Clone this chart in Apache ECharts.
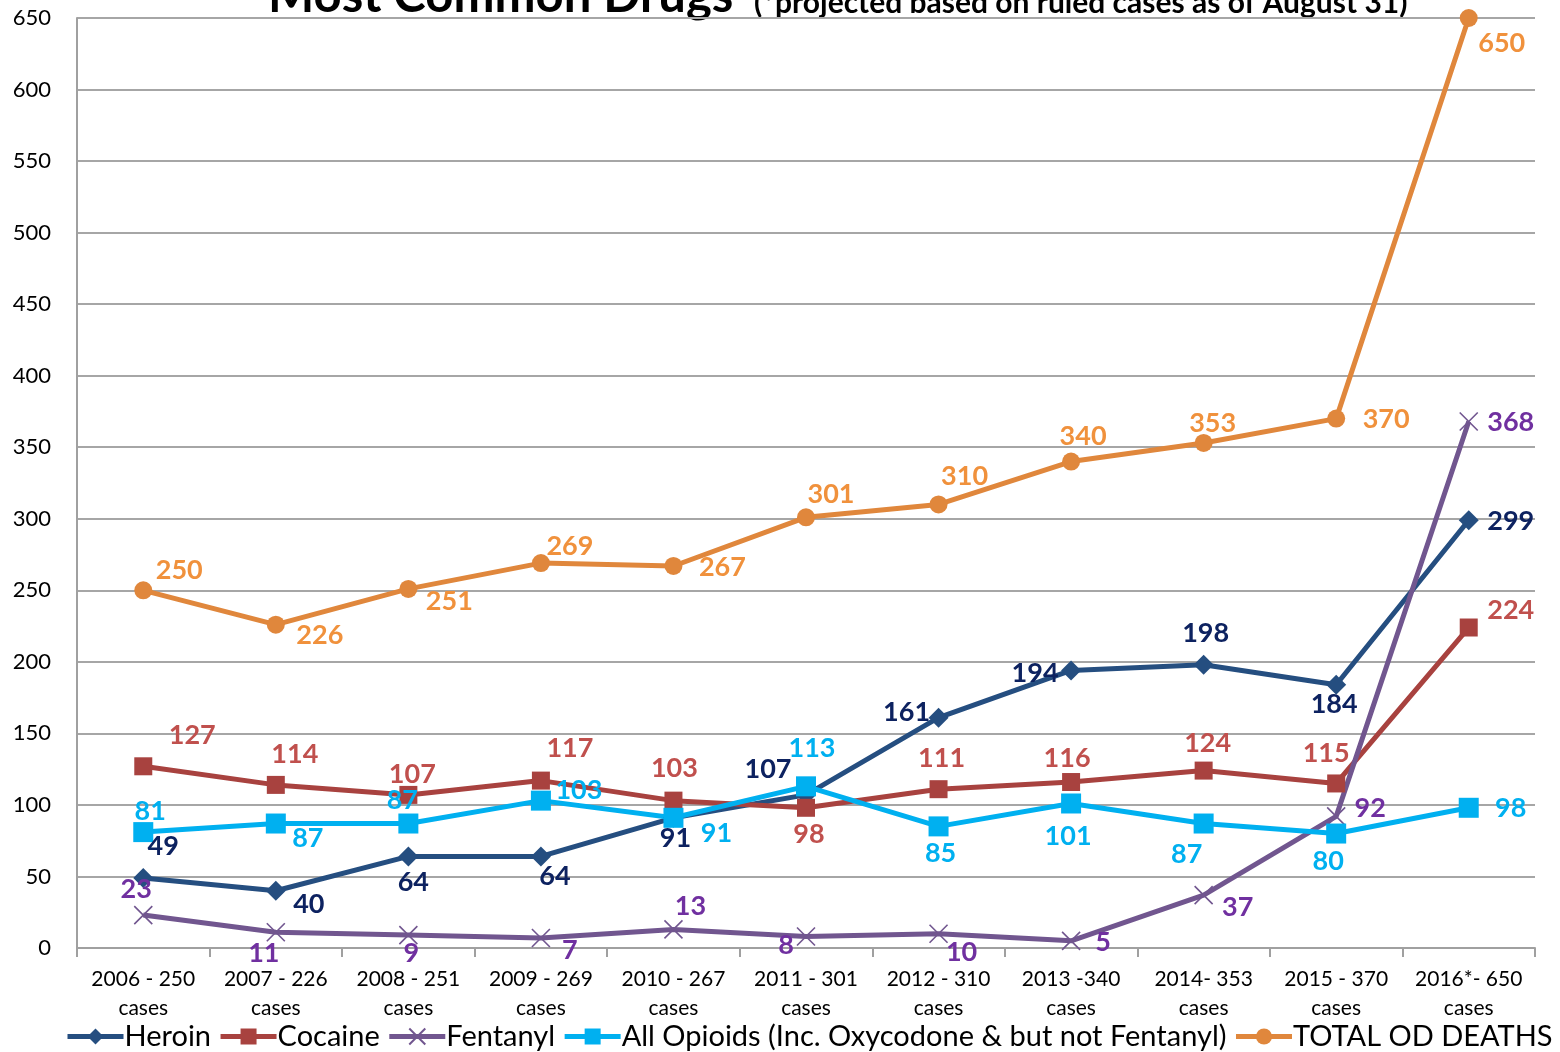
<!DOCTYPE html>
<html><head><meta charset="utf-8">
<script src="https://cdn.jsdelivr.net/npm/echarts@6/dist/echarts.min.js"></script>
<style>html,body{margin:0;padding:0;background:#fff}#c{width:1560px;height:1052px}</style>
</head><body><div id="c"></div>
<script>
const categories = ['2006 - 250\ncases','2007 - 226\ncases','2008 - 251\ncases','2009 - 269\ncases','2010 - 267\ncases','2011 - 301\ncases','2012 - 310\ncases','2013 -340\ncases','2014- 353\ncases','2015 - 370\ncases','2016*- 650\ncases'];
const heroin   = [49,40,64,64,91,107,161,194,198,184,299];
const cocaine  = [127,114,107,117,103,98,111,116,124,115,224];
const fentanyl = [23,11,9,7,13,8,10,5,37,92,368];
const opioids  = [81,87,87,103,91,113,85,101,87,80,98];
const total    = [250,226,251,269,267,301,310,340,353,370,650];
const yTicks = {min:0, max:650, interval:50};

// label offsets (style only)
const heroinOff = [[20,-32],[33,14],[5,26],[14,20],[2,20],[-38,-26],[-32,-5],[-36,3],[2,-31],[-2,20],[42,1]];
const cocaineOff = [[49,-31],[19,-31],[4,-21],[29,-32],[1,-32],[3,27],[3,-31],[-4,-24],[4,-27],[-10,-30],[42,-17]];
const fentanylOff = [[-7,-26],[-12,21],[3,18],[29,12],[17,-23],[-20,9],[23,19],[32,1],[34,12],[34,-8],[42,1]];
const opioidsOff = [[7,-21],[32,15],[-6,-23],[38,-10],[43,15],[6,-38],[2,27],[-3,33],[-17,31],[-8,28],[42,1]];
const totalOff = [[36,-20],[44,11],[41,12],[29,-17],[49,1],[25,-23],[26,-28],[12,-25],[9,-20],[50,1],[33,25]];

const FONT = 'Lato';
function mk(vals, offs){ return vals.map((v,i)=>({value:v, label:{offset:offs[i]}})); }
function series(name, vals, offs, lineColor, labelColor, symbol, size, extra){
  return Object.assign({
    name, type:'line', data: mk(vals, offs), symbol, symbolSize:size,
    lineStyle:{color:lineColor, width:5},
    itemStyle:{color:lineColor},
    label:{show:true, position:'inside', color:labelColor, fontFamily:FONT, fontWeight:'bold', fontSize:27},
    emphasis:{disabled:true}, animation:false
  }, extra||{});
}
const chart = echarts.init(document.getElementById('c'), null, {renderer:'canvas'});
chart.setOption({
  animation:false,
  graphic:[
    {type:'text', left:268, top:-28, style:{text:'Most Common Drugs', fontFamily:FONT, fontWeight:'bold', fontSize:49, fill:'#000'}},
    {type:'text', left:754, top:-12, style:{text:'(*projected based on ruled cases as of August 31)', fontFamily:FONT, fontWeight:'bold', fontSize:30, fill:'#000'}}
  ],
  grid:{left:77, right:25, top:18, bottom:104, containLabel:false},
  legend:{
    top:1017, left:60, itemGap:7, itemWidth:56, itemHeight:20,
    lineStyle:{width:5},
    textStyle:{fontFamily:FONT, fontSize:29, color:'#000', padding:[0,0,0,-4]},
    data:['Heroin','Cocaine','Fentanyl','All Opioids (Inc. Oxycodone & but not Fentanyl)','TOTAL OD DEATHS']
  },
  xAxis:{
    type:'category', data:categories, boundaryGap:true,
    axisLine:{lineStyle:{color:'#A0A0A0', width:2}},
    axisTick:{show:true, length:9, lineStyle:{color:'#A0A0A0', width:2}},
    axisLabel:{fontFamily:FONT, fontSize:21, color:'#000', lineHeight:29, margin:17, interval:0}
  },
  yAxis:{
    type:'value', min:yTicks.min, max:yTicks.max, interval:yTicks.interval,
    axisLine:{show:true, lineStyle:{color:'#A0A0A0', width:2}},
    axisTick:{show:false},
    splitLine:{lineStyle:{color:'#A6A6A6', width:2}},
    axisLabel:{fontFamily:FONT, fontSize:22, color:'#000', margin:26}
  },
  series:[
    series('Heroin', heroin, heroinOff, '#254E80', '#0D2260', 'diamond', 20),
    series('Cocaine', cocaine, cocaineOff, '#A8423F', '#C0504D', 'rect', 18),
    series('Fentanyl', fentanyl, fentanylOff, '#71568F', '#7030A0', 'path://M0,0L10,10M10,0L0,10', 18,
      {itemStyle:{color:'#71568F', borderColor:'#71568F', borderWidth:1.6}}),
    series('All Opioids (Inc. Oxycodone & but not Fentanyl)', opioids, opioidsOff, '#00B0F0', '#00B0F0', 'rect', 20),
    series('TOTAL OD DEATHS', total, totalOff, '#E0873C', '#F0913C', 'circle', 18)
  ]
});
</script></body></html>
